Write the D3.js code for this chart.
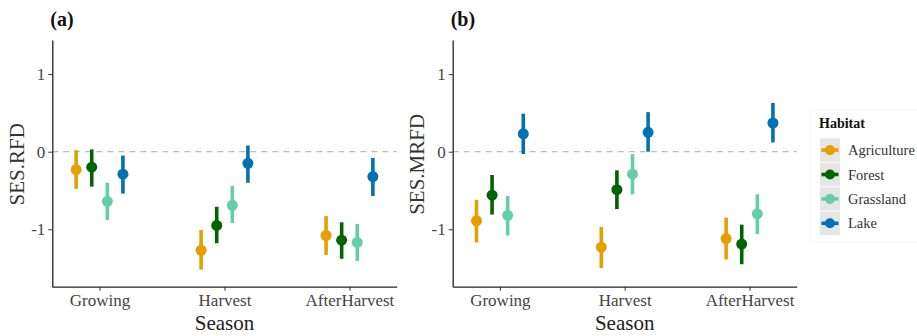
<!DOCTYPE html>
<html>
<head>
<meta charset="utf-8">
<script src="https://cdn.jsdelivr.net/npm/d3@7"></script>
<style>
  body { margin: 0; background: white; }
  svg { display: block; font-family: "Liberation Serif", "DejaVu Serif", serif; }
</style>
</head>
<body>
<svg width="917" height="336"></svg>
<script>
const seasons = ['Growing', 'Harvest', 'AfterHarvest']
const habitats = ['Agriculture', 'Forest', 'Grassland', 'Lake']
const colors = ['#E69F00', '#006400', '#66CDAA', '#0072B2']
const yTicks = [-1, 0, 1]

// panel (a) SES.RFD: mean / lower / upper, one row per habitat, columns follow seasons
const rfdMean = [[-0.23, -1.27, -1.08], [-0.20, -0.95, -1.14], [-0.64, -0.69, -1.17], [-0.29, -0.15, -0.32]]
const rfdLow = [[-0.48, -1.52, -1.33], [-0.45, -1.18, -1.38], [-0.88, -0.92, -1.41], [-0.54, -0.40, -0.57]]
const rfdHigh = [[0.02, -1.01, -0.83], [0.03, -0.71, -0.91], [-0.40, -0.44, -0.93], [-0.05, 0.08, -0.08]]

// panel (b) SES.MRFD
const mrfdMean = [[-0.89, -1.23, -1.12], [-0.56, -0.49, -1.19], [-0.82, -0.29, -0.80], [0.23, 0.25, 0.37]]
const mrfdLow = [[-1.17, -1.50, -1.39], [-0.81, -0.74, -1.45], [-1.08, -0.55, -1.06], [-0.03, 0.00, 0.12]]
const mrfdHigh = [[-0.62, -0.97, -0.85], [-0.30, -0.24, -0.94], [-0.57, -0.03, -0.55], [0.49, 0.51, 0.63]]

function rows(mean, low, high) {
    const out = []
    habitats.forEach((h, i) => {
        seasons.forEach((s, j) => {
            out.push({ habitat: h, season: s, mean: mean[i][j], low: low[i][j], high: high[i][j], color: colors[i] })
        })
    })
    return out
}

const svg = d3.select('svg')
const plotTop = 40, plotBottom = 286.7

const y = d3.scaleLinear().domain([-1.74, 1.44]).range([plotBottom, plotTop])

function styleAxis(axisG) {
    // d3 puts sans-serif on the axis group, drop it so the serif face is inherited
    axisG.attr('font-family', null).attr('font-size', null)
    axisG.select('.domain').attr('stroke', '#222').attr('stroke-width', 1.3)
    axisG.selectAll('.tick line').attr('stroke', '#333')
    axisG.selectAll('text').attr('font-size', 17).attr('fill', '#444')
}

function panel({ left, right, tag, ylab, ylabX, data }) {
    const g = svg.append('g')

    const x = d3.scalePoint().domain(seasons).range([left, right]).padding(0.378)
    const dodge = d3.scalePoint().domain(habitats).range([-23.4, 23.4])

    // zero reference line
    g.append('line')
        .attr('x1', left).attr('x2', right)
        .attr('y1', y(0)).attr('y2', y(0))
        .attr('stroke', '#bdbdbd').attr('stroke-width', 1.2)
        .attr('stroke-dasharray', '6,5')

    g.append('g')
        .attr('transform', `translate(0,${plotBottom})`)
        .call(d3.axisBottom(x).tickSize(4).tickSizeOuter(0).tickPadding(3))
        .call(styleAxis)

    g.append('g')
        .attr('transform', `translate(${left},0)`)
        .call(d3.axisLeft(y).tickValues(yTicks).tickFormat(d => String(d)).tickSize(4).tickSizeOuter(0).tickPadding(3))
        .call(styleAxis)

    const marks = g.append('g').selectAll('g').data(data).join('g')
        .attr('transform', d => `translate(${x(d.season) + dodge(d.habitat)},0)`)

    marks.append('line')
        .attr('y1', d => y(d.low)).attr('y2', d => y(d.high))
        .attr('stroke', d => d.color).attr('stroke-width', 3.6)

    marks.append('circle')
        .attr('cy', d => y(d.mean)).attr('r', 5.5)
        .attr('fill', d => d.color)

    g.append('text')
        .attr('x', left - 2).attr('y', 26)
        .attr('font-size', 20).attr('font-weight', 'bold').attr('fill', '#111')
        .text(tag)

    g.append('text')
        .attr('transform', `translate(${ylabX},${(plotTop + plotBottom) / 2 + 1}) rotate(-90)`)
        .attr('text-anchor', 'middle').attr('dominant-baseline', 'central')
        .attr('font-size', 21).attr('fill', '#333')
        .text(ylab)

    g.append('text')
        .attr('x', (left + right) / 2).attr('y', 330)
        .attr('text-anchor', 'middle')
        .attr('font-size', 21).attr('fill', '#222')
        .text('Season')
}

panel({ left: 52.3, right: 396.7, tag: '(a)', ylab: 'SES.RFD', ylabX: 17, data: rows(rfdMean, rfdLow, rfdHigh) })
panel({ left: 452.7, right: 796.7, tag: '(b)', ylab: 'SES.MRFD', ylabX: 417, data: rows(mrfdMean, mrfdLow, mrfdHigh) })

// legend
const legend = svg.append('g').attr('transform', 'translate(810,110)')
legend.append('rect')
    .attr('width', 110).attr('height', 132)
    .attr('fill', 'white').attr('stroke', '#f6f6f6')
legend.append('text')
    .attr('x', 9).attr('y', 18)
    .attr('font-size', 14).attr('font-weight', 'bold').attr('fill', '#111')
    .text('Habitat')

const keys = legend.selectAll('g.key').data(habitats).join('g')
    .attr('class', 'key')
    .attr('transform', (d, i) => `translate(10,${28.3 + i * 24.4})`)
keys.append('rect')
    .attr('width', 20).attr('height', 23.6).attr('fill', '#e5e5e5')
keys.append('line')
    .attr('x1', 1.5).attr('x2', 18.5).attr('y1', 11.8).attr('y2', 11.8)
    .attr('stroke', (d, i) => colors[i]).attr('stroke-width', 3.6)
keys.append('circle')
    .attr('cx', 10).attr('cy', 11.8).attr('r', 5)
    .attr('fill', (d, i) => colors[i])
keys.append('text')
    .attr('x', 28).attr('y', 11.8).attr('dy', '0.35em')
    .attr('font-size', 14.5).attr('fill', '#333')
    .text(d => d)
</script>
</body>
</html>
